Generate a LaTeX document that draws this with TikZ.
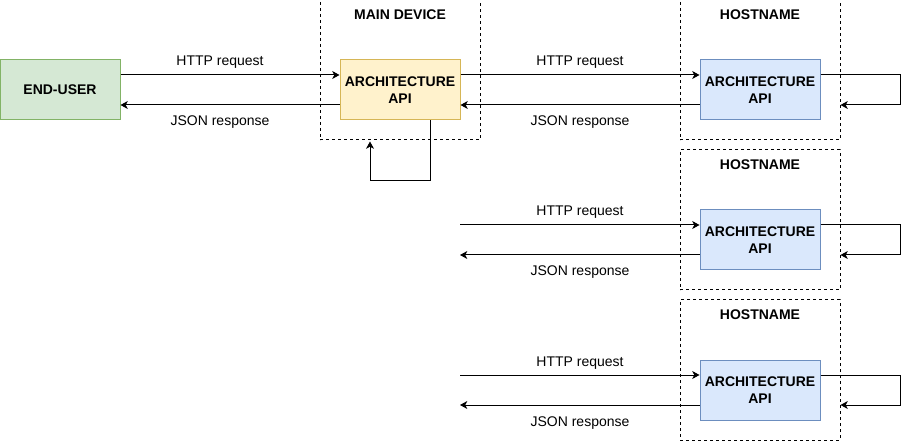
\documentclass[tikz,border=0pt]{standalone}
\usepackage{fontspec}
\setmainfont{Liberation Sans}
\usetikzlibrary{arrows.meta}

\definecolor{userfill}{RGB}{213,232,212}
\definecolor{userline}{RGB}{130,179,102}
\definecolor{mainfill}{RGB}{255,242,204}
\definecolor{mainline}{RGB}{214,182,86}
\definecolor{hostfill}{RGB}{218,232,252}
\definecolor{hostline}{RGB}{108,142,191}

\tikzset{every picture/.style={line width=0.75pt}}
\tikzset{
  apibox/.style={draw, minimum width=90pt, minimum height=45pt, align=center, inner sep=0.75pt, font=\bfseries},
  groupbox/.style={draw, dash pattern={on 2.25pt off 2.25pt}, minimum width=120pt, minimum height=105pt, inner sep=0pt},
  grouptitle/.style={anchor=base, inner sep=0.75pt, font=\bfseries},
  msg/.style={anchor=base, inner sep=0.75pt},
  flow/.style={-{Stealth[length=5.5pt,width=6pt,inset=1.6pt]}},
}

\begin{document}
\fontsize{10.5}{12.6}\selectfont
\begin{tikzpicture}[x=0.75pt,y=0.75pt,yscale=-1,xscale=1]
\useasboundingbox (0,0) rectangle (909,441);

%Shape: Group boxes
\node[groupbox] (dev) at (400,70) {};
\node[groupbox] (host1) at (760,70) {};
\node[groupbox] (host2) at (760,220) {};
\node[groupbox] (host3) at (760,370) {};
% Text Node
\node[grouptitle] (devtitle) at (400,20) {MAIN DEVICE};
\node[grouptitle] (host1title) at (760,20) {HOSTNAME};
\node[grouptitle] (host2title) at (760,170) {HOSTNAME};
\node[grouptitle] (host3title) at (760,320) {HOSTNAME};

%Shape: Rectangle
\node[apibox, fill=userfill, draw=userline] (eu) at (60,90) {END-USER};
\node[apibox, fill=mainfill, draw=mainline] (api0) at (400,90) {ARCHITECTURE\\API};
\node[apibox, fill=hostfill, draw=hostline] (api1) at (760,90) {ARCHITECTURE\\API};
\node[apibox, fill=hostfill, draw=hostline] (api2) at (760,240) {ARCHITECTURE\\API};
\node[apibox, fill=hostfill, draw=hostline] (api3) at (760,390) {ARCHITECTURE\\API};

%Free ends
\coordinate (tap2in) at (460,225);
\coordinate (tap2out) at (460,255);
\coordinate (tap3in) at (460,375);
\coordinate (tap3out) at (460,405);

%Straight Lines: end-user <-> main device
\draw[flow] ([shift={(0,-15)}]eu.east) -- ([shift={(0,-15)}]api0.west);
\draw[flow] ([shift={(0,15)}]api0.west) -- ([shift={(0,15)}]eu.east);
\draw[flow] ([shift={(30,0)}]api0.south) -- ++(0,60) -| ([shift={(-30,1)}]dev.south);

%Straight Lines: main device <-> hostname
\draw[flow] ([shift={(0,-15)}]api0.east) -- ([shift={(0,-15)}]api1.west);
\draw[flow] ([shift={(0,15)}]api1.west) -- ([shift={(0,15)}]api0.east);
\draw[flow] ([shift={(0,-15)}]api1.east) -- ++(80,0) |- ([shift={(0,35)}]host1.east);

\draw[flow] (tap2in) -- ([shift={(0,-15)}]api2.west);
\draw[flow] ([shift={(0,15)}]api2.west) -- (tap2out);
\draw[flow] ([shift={(0,-15)}]api2.east) -- ++(80,0) |- ([shift={(0,35)}]host2.east);

\draw[flow] (tap3in) -- ([shift={(0,-15)}]api3.west);
\draw[flow] ([shift={(0,15)}]api3.west) -- (tap3out);
\draw[flow] ([shift={(0,-15)}]api3.east) -- ++(80,0) |- ([shift={(0,35)}]host3.east);

% Text Node
\node[msg] (req0) at (220,66) {HTTP request};
\node[msg] (resp0) at (220,126) {JSON response};
\node[msg] (req1) at (580,66) {HTTP request};
\node[msg] (resp1) at (580,126) {JSON response};
\node[msg] (req2) at (580,216) {HTTP request};
\node[msg] (resp2) at (580,276) {JSON response};
\node[msg] (req3) at (580,366) {HTTP request};
\node[msg] (resp3) at (580,426) {JSON response};

\end{tikzpicture}
\end{document}
